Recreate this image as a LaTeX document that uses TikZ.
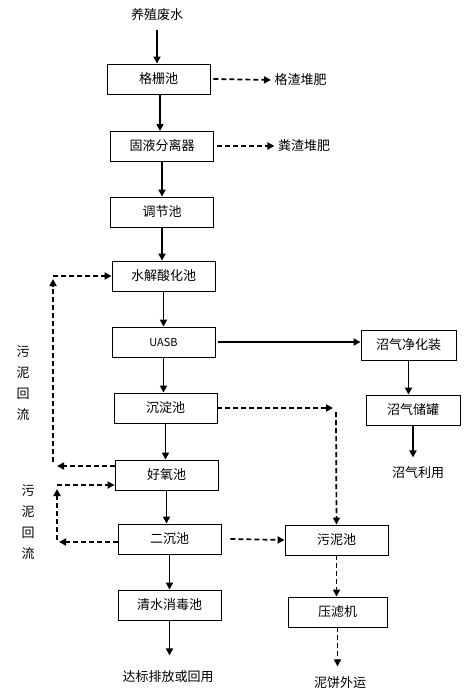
\documentclass[tikz,border=0pt]{standalone}
\usepackage{fontspec}
\usepackage{tikz}
\usetikzlibrary{positioning, arrows.meta}
\newfontfamily\cjk{Noto Sans CJK SC}

\begin{document}
\begin{tikzpicture}[
    x=1pt, y=-1pt,
    every node/.style={font=\cjk\fontsize{13}{15}\selectfont},
    box/.style={draw, line width=0.9pt, minimum width=103pt, minimum height=30pt, inner sep=0pt},
    flow/.style={line width=1.7pt, -{Triangle[length=7pt,width=7pt]}},
    back/.style={line width=1.7pt, dash pattern=on 5pt off 3pt, -{Triangle[length=7pt,width=7pt]}},
    vlabel/.style={align=center, font=\cjk\fontsize{13}{21}\selectfont}
]
\useasboundingbox (0,0) rectangle (469,697);

% main line
\node (src) at (157,15) {养殖废水};
\node[box] (gs) at (158.5,79) {格栅池};
\node[box] (gy) at (162,146) {固液分离器};
\node[box] (tj) at (162,212) {调节池};
\node[box] (sj) at (163.5,276) {水解酸化池};
\node[box, font=\cjk\fontsize{11}{13}\selectfont] (uasb) at (163.5,342) {UASB};
\node[box] (cd) at (165.5,408) {沉淀池};
\node[box] (hy) at (166.5,475) {好氧池};
\node[box] (ec) at (169.5,539) {二沉池};
\node[box] (qs) at (169.5,605) {清水消毒池};
\node (out) at (168,677) {达标排放或回用};

% side products
\node (gz) at (300.5,80) {格渣堆肥};
\node (fz) at (304,146) {粪渣堆肥};
\node[box, minimum width=95pt] (zq) at (408.5,345) {沼气净化装};
\node[box, minimum width=94pt] (cg) at (413,410) {沼气储罐};
\node (ly) at (418,473) {沼气利用};
\node[box] (wn) at (336.5,540) {污泥池};
\node[box, minimum width=99pt] (ylj) at (337.5,612) {压滤机};
\node (nb) at (340,683) {泥饼外运};

% sludge return labels
\node[vlabel] (lab1) at (23,383) {污\\泥\\回\\流};
\node[vlabel] (lab2) at (28,522) {污\\泥\\回\\流};

\coordinate (c1) at (333,408);
\coordinate (c1b) at (336,412);
\coordinate (r1e) at (57,466);
\coordinate (r1b) at (53,462);
\coordinate (r1t) at (53,279);
\coordinate (r1s) at (53,276);
\coordinate (r2e) at (59,542);
\coordinate (r2b) at (57,540);
\coordinate (r2t) at (57,489);
\coordinate (r2s) at (57,485);

\draw[flow] ([yshift=-5pt]src.south) -- (src.south |- gs.north);
\draw[flow] (gs.south) ++(1.5,0) -- (160,131);
\draw[flow] (gy.south) -- (gy.south |- tj.north);
\draw[flow] (tj.south) -- (tj.south |- sj.north);
\draw[flow] (sj.south) -- (sj.south |- uasb.north);
\draw[flow] (uasb.south) -- (uasb.south |- cd.north);
\draw[flow] (cd.south) -- (cd.south |- hy.north);
\draw[flow] (hy.south) -- (hy.south |- ec.north);
\draw[flow] (ec.south) -- (ec.south |- qs.north);
\draw[flow, shorten >=12pt] (qs.south) -- (qs.south |- out.north);

\draw[back] ([xshift=3pt]gs.east) -- (gz.west);
\draw[back] ([xshift=3pt]gy.east) -- (fz.west);

\draw[flow] ([xshift=3pt]uasb.east) -- (zq.west |- uasb.east);
\draw[flow] (zq.south) -- (zq.south |- cg.north);
\draw[flow, shorten >=6pt] (cg.south) -- (cg.south |- ly.north);

\draw[back] (cd.east) -- (c1);
\draw[back] (c1b) -- (wn.north);
\draw[back] ([xshift=9pt]ec.east) -- (wn.west);
\draw[back] (wn.south) -- (ylj.north -| wn.south);
\draw[back, shorten >=7pt] (ylj.south) -- (ylj.south |- nb.north);

% returns
\draw[back] ([yshift=9pt]hy.west) -- (r1e);
\draw[back] (r1b) -- (r1t);
\draw[back] (r1s) -- (sj.west);
\draw[back] ([yshift=-3pt]ec.west) -- (r2e);
\draw[back] (r2b) -- (r2t);
\draw[back] (r2s) -- ([yshift=-10pt]hy.west);
\end{tikzpicture}
\end{document}
